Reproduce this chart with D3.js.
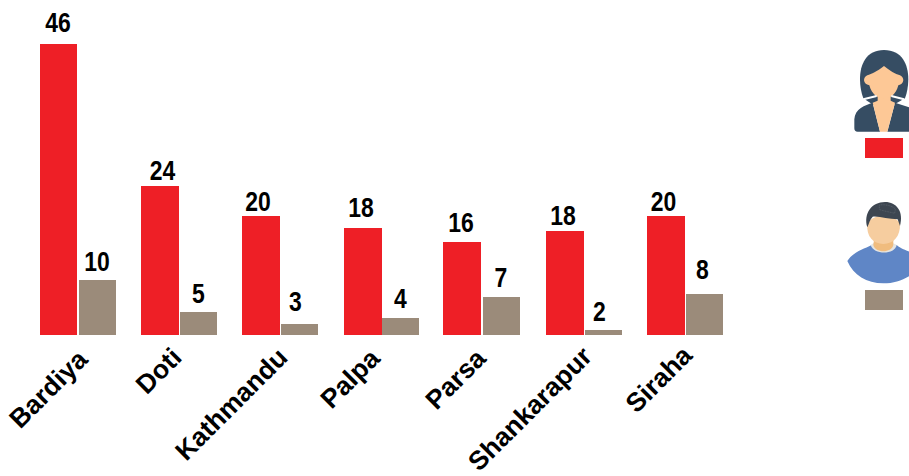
<!DOCTYPE html>
<html><head><meta charset="utf-8">
<script src="https://cdn.jsdelivr.net/npm/d3@7"></script>
<style>html,body{margin:0;padding:0;background:#fff}svg{display:block}</style>
</head><body><svg id="c" width="909" height="476"></svg>
<script>
const categories = ["Bardiya","Doti","Kathmandu","Palpa","Parsa","Shankarapur","Siraha"];
const femaleLabels = [46,24,20,18,16,18,20];
const maleLabels = [10,5,3,4,7,2,8];
// bar lengths (the axis does not start at zero)
const femaleValues = [45.97,24.12,19.51,17.66,15.51,17.2,19.51];
const maleValues = [9.66,4.74,2.89,3.82,7.05,1.97,7.51];
const labelLift = {female:[12,6,5,11,10,6,5], male:[9,9,13,10,10,9,15]};
const labelShift = {female:[-1,2.5,-3,-2,-1,-2,-2.5], male:[-.5,0,-4,0,-.5,-4,-2]};
const redNudge = [0,0,0,.5,-1.5,0,0];
const redWidths = [37,38,38,38,38,38,38];
const axisNudge = [[5,4],[-2,2],[3,2],[-6,3],[-1,3],[4,1],[3,0]];
const W=909,H=476,base=335;
const svg=d3.select("#c");
const x=d3.scaleBand().domain(categories).range([27.5,735.34]);
const y=d3.scaleLinear().domain([1.2,46.0]).range([base,44]);
const colors={female:"#ee1f26",male:"#9b8b7a"};
const series=[["female",femaleValues,femaleLabels,12.5,38],["male",maleValues,maleLabels,51.5,37]];
series.forEach(([k,vals,labs,off,bw])=>{
  const bx=(c,i)=>Math.round(x(c)+off+(k==="female"?redNudge[i]:0));
  svg.append("g").selectAll("rect").data(categories).join("rect")
    .attr("x",bx).attr("width",(c,i)=>k==="female"?redWidths[i]:bw)
    .attr("y",(c,i)=>Math.round(y(vals[i]))).attr("height",(c,i)=>base-Math.round(y(vals[i]))).attr("fill",colors[k]);
  svg.append("g").selectAll("text").data(categories).join("text")
    .attr("transform",(c,i)=>`translate(${bx(c,i)+bw/2+labelShift[k][i]},${Math.round(y(vals[i]))-labelLift[k][i]}) scale(0.82,1)`)
    .attr("text-anchor","middle").attr("font-family","'Liberation Sans',Arial,sans-serif").attr("font-weight","bold")
    .attr("font-size",28).attr("fill","#000").text((c,i)=>labs[i]);
});
svg.append("g").selectAll("text").data(categories).join("text")
  .attr("transform",(c,i)=>`translate(${x(c)+x.bandwidth()/2+6+axisNudge[i][0]},${base+22+axisNudge[i][1]}) rotate(-45)`)
  .attr("text-anchor","end").attr("font-family","'Liberation Sans',Arial,sans-serif")
  .attr("font-weight","bold").attr("font-size",26.5).attr("fill","#000").text(c=>c);
// legend
svg.append("rect").attr("x",865).attr("y",138).attr("width",38).attr("height",20).attr("fill",colors.female);
svg.append("rect").attr("x",865).attr("y",290).attr("width",38).attr("height",20).attr("fill",colors.male);
// woman icon
const w=svg.append("g").attr("transform","translate(830,30) scale(0.3333)");
[["M100,205C80,150 85,60 162,60C240,60 245,150 225,205L190,225L130,225Z","#364d63"],
 ["M128,218C105,226 75,235 73,268L73,295Q73,305 83,305L150,305ZM195,218L238,232L238,305L172,305Z","#364d63"],
 ["M128,218L143,212L182,212L195,218L172,305L150,305Z","#fdc896"],
 ["M143,190L182,190L182,216L143,216Z","#fdc896"],
 ["M162,108C140,125 125,132 112,136C98,142 98,162 118,166C125,195 145,205 162,205C180,205 198,195 205,166C224,162 224,142 210,136C195,132 180,122 162,108Z","#fdc896"]
].forEach(([d,f])=>w.append("path").attr("d",d).attr("fill",f));
w.append("path").attr("d","M100,208L140,198M222,208L184,198").attr("stroke","#fff").attr("stroke-width",6).attr("fill","none");
// man icon
const m=svg.append("g").attr("transform","translate(830,190) scale(0.3333)");
[["M52,213C70,185 100,178 125,165L200,165C215,178 228,180 238,185L238,258C215,272 190,280 160,280C110,280 70,255 52,213Z","#5f86c6"],
 ["M122,165C130,195 195,195 200,165L190,160L130,160Z","#e4e4e2"],
 ["M132,150L190,150L190,165C185,190 135,190 130,165Z","#f0bc7e"],
 ["M112,100C108,140 130,162 160,162C190,162 212,140 210,100C190,70 130,70 112,100Z","#f6cd9f"],
 ["M112,112C100,70 125,36 165,36C200,36 222,65 210,108L203,88C175,88 150,78 128,80C120,88 118,98 112,112Z","#3d4651"]
].forEach(([d,f])=>m.append("path").attr("d",d).attr("fill",f));
m.append("path").attr("d","M148,45C165,42 190,48 196,58L194,70C175,65 155,62 148,58Z").attr("fill","none").attr("stroke","#6b737c").attr("stroke-width",1.5).attr("stroke-dasharray","3 2");
</script></body></html>
